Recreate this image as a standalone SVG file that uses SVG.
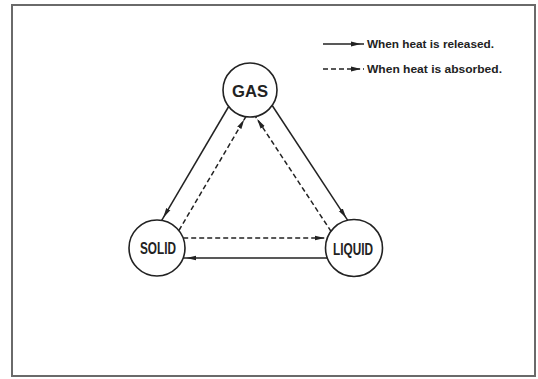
<svg xmlns="http://www.w3.org/2000/svg" width="538" height="379" viewBox="0 0 538 379">
<style>
.frame{fill:none;stroke:#6a6a6a;stroke-width:2}
.node circle{fill:#fff;stroke:#222;stroke-width:1.6}
.node text{font-family:"Liberation Sans",Arial,sans-serif;font-weight:bold;fill:#222;text-anchor:middle}
.rel{fill:none;stroke:#222;stroke-width:1.5;marker-end:url(#ah)}
.abs{fill:none;stroke:#222;stroke-width:1.5;stroke-dasharray:5 3;marker-end:url(#ah)}
.legend{font-family:"Liberation Sans",Arial,sans-serif;font-weight:bold;font-size:10.5px;fill:#222}
</style>
<defs>
<marker id="ah" markerUnits="userSpaceOnUse" markerWidth="16" markerHeight="8" refX="13" refY="3" orient="auto" viewBox="0 0 16 6">
<path d="M0,0.6 L10,3 L0,5.4 z" fill="#222"/>
</marker>
</defs>
<rect class="frame" x="12" y="5" width="523" height="371"/>
<g id="connectors">
<line class="rel" x1="228.7" y1="106.5" x2="161.7" y2="220.3"/>
<line class="abs" x1="178.9" y1="230.5" x2="245.9" y2="116.7"/>
<line class="rel" x1="272.2" y1="105.5" x2="347.9" y2="220.6"/>
<line class="abs" x1="331.2" y1="231.6" x2="255.5" y2="116.5"/>
<line class="abs" x1="183.2" y1="238" x2="327.8" y2="238"/>
<line class="rel" x1="327.8" y1="258" x2="183.2" y2="258"/>
</g>
<g id="legend">
<line class="rel" x1="323" y1="44" x2="364" y2="44"/>
<text class="legend" x="367" y="48" textLength="127" lengthAdjust="spacingAndGlyphs">When heat is released.</text>
<line class="abs" x1="323" y1="69" x2="364" y2="69"/>
<text class="legend" x="367" y="73" textLength="135" lengthAdjust="spacingAndGlyphs">When heat is absorbed.</text>
</g>
<g id="gas" class="node">
<circle cx="250" cy="90" r="27"/>
<text x="250" y="96.5" font-size="17" textLength="36" lengthAdjust="spacingAndGlyphs">GAS</text>
</g>
<g id="solid" class="node">
<circle cx="157" cy="248" r="28"/>
<text x="158" y="254" font-size="16" textLength="36" lengthAdjust="spacingAndGlyphs">SOLID</text>
</g>
<g id="liquid" class="node">
<circle cx="354" cy="248" r="28.5"/>
<text x="353" y="255" font-size="16" textLength="40" lengthAdjust="spacingAndGlyphs">LIQUID</text>
</g>
</svg>
